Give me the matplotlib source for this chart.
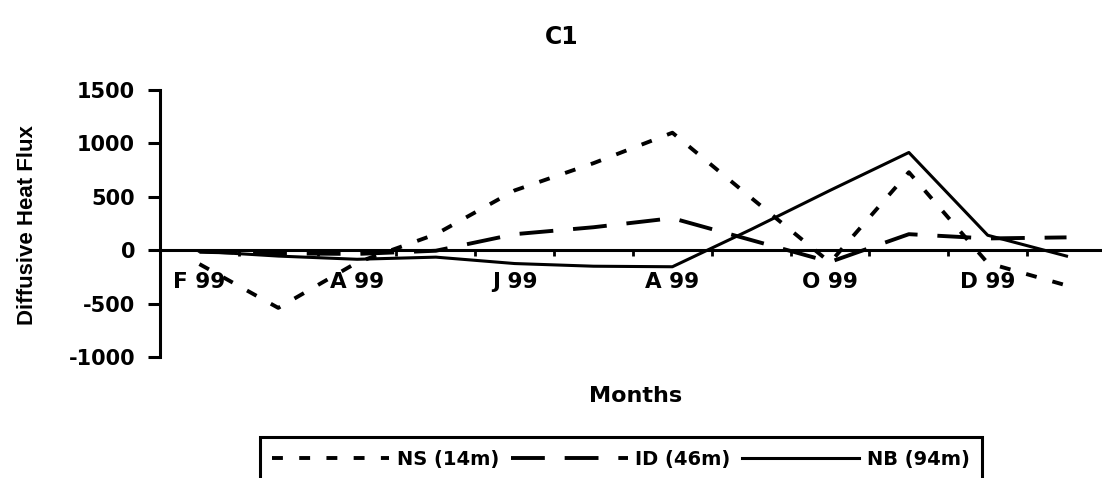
import matplotlib
matplotlib.use("Agg")
import matplotlib.pyplot as plt
from matplotlib.ticker import FixedLocator

# monthly values, Feb 99 .. Jan 00
months = ["F 99", "M 99", "A 99", "M 99", "J 99", "J 99",
          "A 99", "S 99", "O 99", "N 99", "D 99", "J 00"]
ns_14m = [-130, -540, -115, 150, 560, 815, 1100, 490, -115, 730, -120, -330]
id_46m = [-15, -30, -35, -5, 150, 215, 300, 95, -110, 150, 110, 120]
nb_94m = [-10, -55, -85, -65, -125, -150, -155, 195, 560, 915, 140, -55]
series_names = ["NS (14m)", "ID (46m)", "NB (94m)"]
y_ticks = [-1000, -500, 0, 500, 1000, 1500]

plt.rcParams["font.family"] = ["DejaVu Sans"]
plt.rcParams["font.weight"] = "bold"

W, H = 1102, 478
fig = plt.figure(figsize=(W / 100, H / 100), dpi=100)
ax = fig.add_axes([160 / W, 121 / H, (W - 160) / W, 267 / H])

x = list(range(len(months)))
ax.plot(x, ns_14m, color="black", lw=2.8, dashes=(2.8, 4.2), label=series_names[0])
ax.plot(x, id_46m, color="black", lw=2.8, dashes=(8.7, 5.1), label=series_names[1])
ax.plot(x, nb_94m, color="black", lw=2.2, label=series_names[2])

ax.set_xlim(-0.5, 11.45)
ax.set_ylim(-1000, 1500)
ax.set_yticks(y_ticks)
ax.set_yticklabels([str(v) for v in y_ticks])

ax.spines["top"].set_visible(False)
ax.spines["right"].set_visible(False)
ax.spines["left"].set_linewidth(2.2)
ax.spines["bottom"].set_position(("data", 0))
ax.spines["bottom"].set_linewidth(2.2)

ax.set_xticks(x[::2])
ax.set_xticklabels(months[::2])
ax.xaxis.set_minor_locator(FixedLocator([i + 0.5 for i in range(11)]))
ax.tick_params(axis="x", which="major", length=0, pad=16, labelsize=15.5)
ax.tick_params(axis="x", which="minor", direction="out", length=4.5, width=2)
ax.tick_params(axis="y", direction="out", length=9, width=2.2, pad=9, labelsize=15)

fig.text(562 / W, 1 - 37 / H, "C1", ha="center", va="center", fontsize=17, fontweight="bold")
fig.text(636 / W, 1 - 396 / H, "Months", ha="center", va="center", fontsize=16, fontweight="bold")
fig.text(28 / W, 1 - 225 / H, "Diffusive Heat Flux", ha="center", va="center",
         rotation=90, fontsize=16, fontweight="bold",
         family=["Liberation Sans Narrow", "Liberation Sans", "DejaVu Sans"])

leg = fig.legend(loc="upper center", bbox_to_anchor=(621 / W, 1 - 437 / H), ncol=3,
                 frameon=True, fancybox=False, edgecolor="black", framealpha=1,
                 fontsize=14, handlelength=6.0, handletextpad=0.4, columnspacing=0.6,
                 borderpad=0.65, borderaxespad=0)
leg.get_frame().set_linewidth(2.2)

fig.savefig("out.png", dpi=100)
